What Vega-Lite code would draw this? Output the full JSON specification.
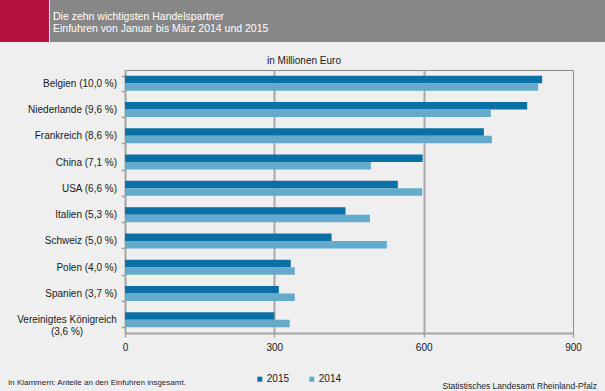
{
  "$schema": "https://vega.github.io/schema/vega-lite/v6.json",
  "background": "#eeefee",
  "padding": 0,
  "spacing": 13,
  "config": {
    "font": "Liberation Sans",
    "view": {"stroke": null},
    "concat": {"spacing": 0}
  },
  "vconcat": [
    {
      "spacing": 1,
      "hconcat": [
        {
          "width": 49,
          "height": 42,
          "view": {"fill": "#b5123f", "stroke": null},
          "data": {"values": [{"t": ""}]},
          "mark": {"type": "text"},
          "encoding": {"text": {"field": "t"}}
        },
        {
          "width": 555,
          "height": 42,
          "view": {"fill": "#878787", "stroke": null},
          "title": {
            "text": ["Die zehn wichtigsten Handelspartner", "Einfuhren von Januar bis März 2014 und 2015"],
            "anchor": "start",
            "frame": "group",
            "orient": "top",
            "offset": -34,
            "dx": 3,
            "fontSize": 10.5,
            "fontWeight": "normal",
            "color": "#ffffff",
            "lineHeight": 11.5
          },
          "data": {"values": [{"t": ""}]},
          "mark": {"type": "text"},
          "encoding": {"text": {"field": "t"}}
        }
      ]
    },
    {
      "spacing": 6,
      "hconcat": [
        {
          "width": 1,
          "height": 1,
          "data": {"values": [{"t": ""}]},
          "mark": {"type": "text"},
          "encoding": {"text": {"field": "t"}}
        },
        {
          "width": 448,
          "height": 263,
          "view": {"stroke": "#8c8c8c", "strokeWidth": 1, "fill": null},
          "title": {
            "text": "in Millionen Euro",
            "fontSize": 10,
            "fontWeight": "normal",
            "color": "#1a1a1a",
            "anchor": "middle",
            "frame": "group",
            "dx": -45,
            "offset": -1
          },
          "data": {
            "values": [
              {"land": "Belgien (10,0 %)", "jahr": "2015", "wert": 838},
              {"land": "Belgien (10,0 %)", "jahr": "2014", "wert": 830},
              {"land": "Niederlande (9,6 %)", "jahr": "2015", "wert": 808},
              {"land": "Niederlande (9,6 %)", "jahr": "2014", "wert": 735},
              {"land": "Frankreich (8,6 %)", "jahr": "2015", "wert": 721},
              {"land": "Frankreich (8,6 %)", "jahr": "2014", "wert": 737},
              {"land": "China (7,1 %)", "jahr": "2015", "wert": 598},
              {"land": "China (7,1 %)", "jahr": "2014", "wert": 494},
              {"land": "USA (6,6 %)", "jahr": "2015", "wert": 548},
              {"land": "USA (6,6 %)", "jahr": "2014", "wert": 597},
              {"land": "Italien (5,3 %)", "jahr": "2015", "wert": 443},
              {"land": "Italien (5,3 %)", "jahr": "2014", "wert": 492},
              {"land": "Schweiz (5,0 %)", "jahr": "2015", "wert": 415},
              {"land": "Schweiz (5,0 %)", "jahr": "2014", "wert": 526},
              {"land": "Polen (4,0 %)", "jahr": "2015", "wert": 333},
              {"land": "Polen (4,0 %)", "jahr": "2014", "wert": 341},
              {"land": "Spanien (3,7 %)", "jahr": "2015", "wert": 309},
              {"land": "Spanien (3,7 %)", "jahr": "2014", "wert": 341},
              {"land": "Vereinigtes Königreich (3,6 %)", "jahr": "2015", "wert": 300},
              {"land": "Vereinigtes Königreich (3,6 %)", "jahr": "2014", "wert": 331}
            ]
          },
          "mark": {"type": "bar"},
          "encoding": {
            "y": {
              "field": "land",
              "type": "nominal",
              "sort": null,
              "scale": {"paddingInner": 0.43, "paddingOuter": 0.215},
              "axis": {
                "title": "In Klammern: Anteile an den Einfuhren insgesamt.",
                "titleAngle": 0,
                "titleX": -117.5,
                "titleY": 312.7,
                "titleAlign": "left",
                "titleBaseline": "middle",
                "titleFontSize": 8,
                "titleFontWeight": "normal",
                "titleColor": "#1e2533",
                "domainColor": "#a3a3a3",
                "domainWidth": 2,
                "tickColor": "#a3a3a3",
                "tickWidth": 1.5,
                "tickSize": 4,
                "tickBand": "extent",
                "labelFontSize": 10,
                "labelColor": "#1a1a1a",
                "labelLineHeight": 12,
                "labelExpr": "datum.value == 'Vereinigtes Königreich (3,6 %)' ? ['Vereinigtes Königreich', '(3,6 %)'] : datum.label",
                "labelAlign": {"condition": {"test": "datum.value == 'Vereinigtes Königreich (3,6 %)'", "value": "center"}, "value": "right"},
                "labelPadding": {"condition": {"test": "datum.value == 'Vereinigtes Königreich (3,6 %)'", "value": 54.5}, "value": 4.5}
              }
            },
            "x": {
              "field": "wert",
              "type": "quantitative",
              "scale": {"domain": [0, 900]},
              "axis": {
                "values": [0, 300, 600, 900],
                "title": "Statistisches Landesamt Rheinland-Pfalz",
                "titleX": 471.5,
                "titleY": 52.7,
                "titleAlign": "right",
                "titleBaseline": "middle",
                "titleFontSize": 8.5,
                "titleFontWeight": "normal",
                "titleColor": "#1e2533",
                "domainColor": "#a3a3a3",
                "domainWidth": 2,
                "tickColor": "#a3a3a3",
                "tickWidth": 1.5,
                "tickSize": 4,
                "labelFontSize": 10,
                "labelPadding": 5,
                "labelColor": "#1a1a1a",
                "labelFlush": false,
                "grid": true,
                "gridWidth": 2,
                "gridColor": {"condition": {"test": "datum.value == 300 || datum.value == 600", "value": "#a8a8a8"}, "value": "rgba(0,0,0,0)"}
              }
            },
            "yOffset": {"field": "jahr", "sort": ["2015", "2014"]},
            "color": {
              "field": "jahr",
              "type": "nominal",
              "scale": {"domain": ["2015", "2014"], "range": ["#0a70a5", "#63aacb"]},
              "legend": {
                "orient": "none",
                "legendX": 254.8,
                "legendY": 374.2,
                "direction": "horizontal",
                "title": null,
                "symbolType": "square",
                "symbolSize": 25,
                "symbolStrokeWidth": 0,
                "labelFontSize": 10,
                "labelOffset": 2,
                "columnPadding": 17,
                "padding": 0,
                "labelColor": "#1a1a1a"
              }
            }
          }
        }
      ]
    }
  ]
}
